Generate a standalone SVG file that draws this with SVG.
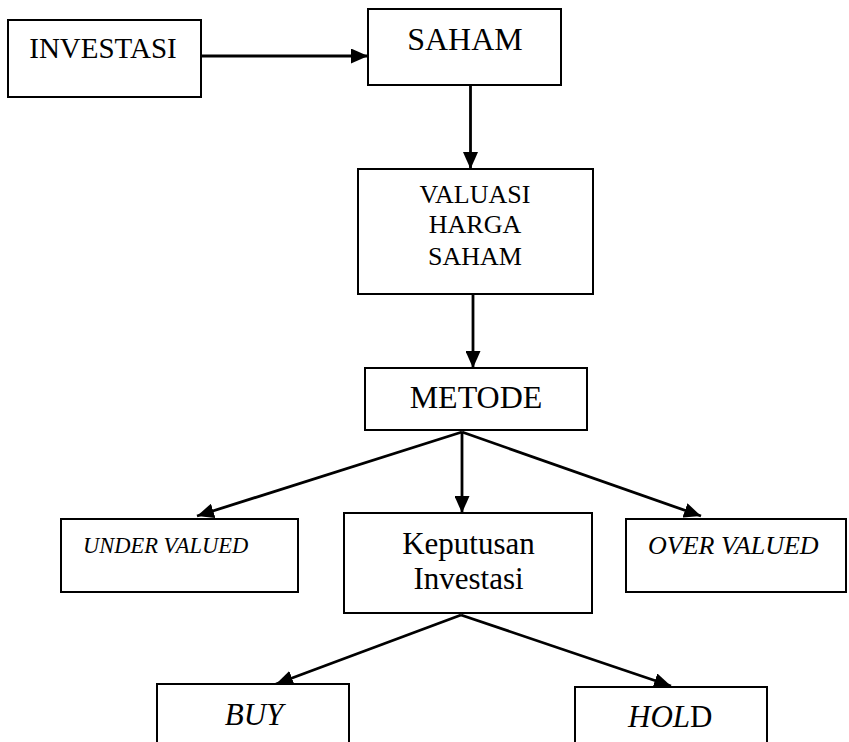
<svg xmlns="http://www.w3.org/2000/svg" width="849" height="742" viewBox="0 0 849 742">
<style>
.box{fill:#fff;stroke:#000;stroke-width:2}
.t{font-family:"Liberation Serif","Times New Roman",serif;fill:#000}
.i{font-style:italic}
.c{stroke:#000;stroke-width:2.8;fill:none}
</style>
<defs>
<marker id="ah" viewBox="0 0 17 15" refX="17" refY="7.5" markerUnits="userSpaceOnUse" markerWidth="17" markerHeight="15" orient="auto">
<path d="M0,0 L17,7.5 L0,15 Z" fill="#000"/>
</marker>
</defs>
<rect width="849" height="742" fill="#fff"/>
<g id="connectors">
<line class="c" x1="201" y1="56" x2="368" y2="56" marker-end="url(#ah)"/>
<line class="c" x1="470.5" y1="86" x2="470.5" y2="169" marker-end="url(#ah)"/>
<line class="c" x1="473" y1="294" x2="473" y2="368" marker-end="url(#ah)"/>
<line class="c" x1="462" y1="432" x2="462" y2="513" marker-end="url(#ah)"/>
<line class="c" x1="462" y1="432" x2="197" y2="516" marker-end="url(#ah)"/>
<line class="c" x1="462" y1="432" x2="701" y2="516" marker-end="url(#ah)"/>
<line class="c" x1="461" y1="615" x2="276" y2="684" marker-end="url(#ah)"/>
<line class="c" x1="461" y1="615" x2="671" y2="686" marker-end="url(#ah)"/>
</g>
<g id="investasi">
<rect class="box" x="8" y="20" width="193" height="77"/>
<text class="t" x="103" y="58" font-size="29" text-anchor="middle">INVESTASI</text>
</g>
<g id="saham">
<rect class="box" x="368" y="9" width="193" height="76"/>
<text class="t" x="465" y="50" font-size="32" text-anchor="middle">SAHAM</text>
</g>
<g id="valuasi">
<rect class="box" x="358" y="169" width="235" height="125"/>
<text class="t" font-size="26" text-anchor="middle"><tspan x="475" y="203">VALUASI</tspan><tspan x="475" y="233">HARGA</tspan><tspan x="475" y="265">SAHAM</tspan></text>
</g>
<g id="metode">
<rect class="box" x="365" y="368" width="222" height="62"/>
<text class="t" x="476" y="408" font-size="32" text-anchor="middle">METODE</text>
</g>
<g id="under">
<rect class="box" x="61" y="519" width="237" height="73"/>
<text class="t i" x="83" y="553" font-size="22.5">UNDER VALUED</text>
</g>
<g id="keputusan">
<rect class="box" x="344" y="513" width="248" height="100"/>
<text class="t" font-size="31" text-anchor="middle"><tspan x="468.5" y="554">Keputusan</tspan><tspan x="468.5" y="589">Investasi</tspan></text>
</g>
<g id="over">
<rect class="box" x="626" y="519" width="220" height="73"/>
<text class="t i" x="648" y="554" font-size="26">OVER VALUED</text>
</g>
<g id="buy">
<rect class="box" x="157" y="684" width="192" height="70"/>
<text class="t i" x="254" y="725" font-size="31" text-anchor="middle">BUY</text>
</g>
<g id="hold">
<rect class="box" x="575" y="687" width="192" height="70"/>
<text class="t" x="628" y="727" font-size="31"><tspan class="i">HOL</tspan>D</text>
</g>
</svg>
